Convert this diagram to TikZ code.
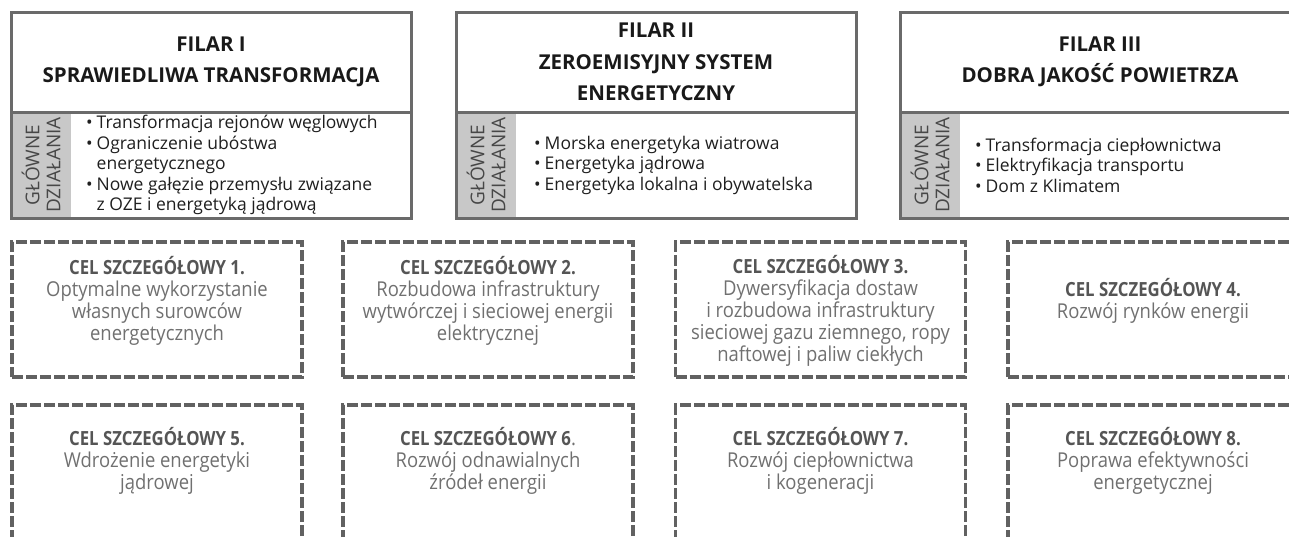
\documentclass[tikz,border=0pt]{standalone}
\usepackage{fontspec}
\setmainfont{Open Sans}
\newfontfamily\condfont[FakeStretch=0.86]{Open Sans}
\newfontfamily\goalfont[FakeStretch=0.9]{Open Sans}
\usepackage{xcolor}
\usepackage{tikz}
\usetikzlibrary{positioning}

\definecolor{framegray}{HTML}{6A6A6A}
\definecolor{dashgray}{HTML}{616161}
\definecolor{stripgray}{HTML}{C8C8C8}
\definecolor{goaltitle}{HTML}{555555}
\definecolor{goalbody}{HTML}{707070}

\newcommand{\bul}{\makebox[10.5pt][l]{\textbullet}}
\newcommand{\ind}{\hspace*{10.5pt}}
\newcommand{\goalhead}[1]{{\condfont\bfseries\color{goaltitle}\fontsize{19.5}{22}\selectfont #1}}

\begin{document}
\begin{tikzpicture}[x=1pt, y=-1pt,
    head/.style={draw=framegray, line width=3pt, outer sep=0pt, minimum width=400pt,
                 minimum height=100pt, align=center, text=black!90,
                 font=\fontsize{20.5}{31.5}\selectfont\bfseries},
    body/.style={draw=framegray, line width=3pt, outer sep=0pt, minimum width=400pt,
                 minimum height=106pt},
    strip/.style={fill=stripgray, outer sep=0pt, inner sep=0pt, minimum width=60pt,
                  minimum height=106pt},
    striplabel/.style={rotate=90, align=center, text=black!72,
                       font=\fontsize{19}{21}\selectfont},
    actions/.style={align=left, inner sep=0pt, text=black!88,
                    font=\fontsize{17.5}{20.5}\selectfont},
    goalbox/.style={draw=dashgray, line width=3.5pt, dash pattern=on 11pt off 3pt,
                    minimum width=290pt, minimum height=135pt},
    goaltext/.style={align=center, text=goalbody,
                     font=\goalfont\fontsize{20.5}{22}\selectfont},
]
\path[use as bounding box, clip] (0,0) rectangle (1289,536);

% --- Pillar I ---
\node[head] (h1) at (211,62) {FILAR I\\SPRAWIEDLIWA TRANSFORMACJA};
\node[strip, anchor=north west] (s1) at (h1.south west) {};
\node[body, below=0pt of h1] (b1) {};
\node[striplabel] (l1) at (s1) {GŁÓWNE\\DZIAŁANIA};
\node[actions, anchor=west] (a1) at ([xshift=15pt]s1.east) {%
  \bul Transformacja rejonów węglowych\\
  \bul Ograniczenie ubóstwa\\
  \ind energetycznego\\
  \bul Nowe gałęzie przemysłu związane\\
  \ind z OZE i energetyką jądrową};

% --- Pillar II ---
\node[head] (h2) at (656,62) {FILAR II\\ZEROEMISYJNY SYSTEM\\ENERGETYCZNY};
\node[strip, anchor=north west] (s2) at (h2.south west) {};
\node[body, below=0pt of h2] (b2) {};
\node[striplabel] (l2) at (s2) {GŁÓWNE\\DZIAŁANIA};
\node[actions, anchor=west] (a2) at ([xshift=18pt]s2.east) {%
  \bul Morska energetyka wiatrowa\\
  \bul Energetyka jądrowa\\
  \bul Energetyka lokalna i obywatelska};

% --- Pillar III (runs past the right edge) ---
\node[head] (h3) at (1100,62) {FILAR III\\DOBRA JAKOŚĆ POWIETRZA};
\node[strip, anchor=north west] (s3) at (h3.south west) {};
\node[body, below=0pt of h3] (b3) {};
\node[striplabel] (l3) at (s3) {GŁÓWNE\\DZIAŁANIA};
\node[actions, anchor=west] (a3) at ([xshift=15pt]s3.east) {%
  \bul Transformacja ciepłownictwa\\
  \bul Elektryfikacja transportu\\
  \bul Dom z Klimatem};

% ===================== SPECIFIC GOALS =====================

% Row 1
\node[goalbox] (g1) at (157,309.5) {};
\node[goalbox] (g2) at (488,309.5) {};
\node[goalbox] (g3) at (820.5,309.5) {};
\node[goalbox] (g4) at (1153,309.5) {};

\node[goaltext] (t1) at (157,301) {\goalhead{CEL SZCZEGÓŁOWY 1.}\\
  Optymalne wykorzystanie\\własnych surowców\\energetycznych};
\node[goaltext] (t2) at (488,301) {\goalhead{CEL SZCZEGÓŁOWY 2.}\\
  Rozbudowa infrastruktury\\wytwórczej i sieciowej energii\\elektrycznej};
\node[goaltext] (t3) at (820.5,311) {\goalhead{CEL SZCZEGÓŁOWY 3.}\\
  Dywersyfikacja dostaw\\i rozbudowa infrastruktury\\sieciowej gazu ziemnego, ropy\\naftowej i paliw ciekłych};
\node[goaltext] (t4) at (1153,301) {\goalhead{CEL SZCZEGÓŁOWY 4.}\\
  Rozwój rynków energii};

% Row 2 (cut off at the bottom)
\node[goalbox] (g5) at (157,472.5) {};
\node[goalbox] (g6) at (488,472.5) {};
\node[goalbox] (g7) at (820.5,472.5) {};
\node[goalbox] (g8) at (1153,472.5) {};

\node[goaltext] (t5) at (157,461) {\goalhead{CEL SZCZEGÓŁOWY 5.}\\
  Wdrożenie energetyki\\jądrowej};
\node[goaltext] (t6) at (488,461) {\goalhead{CEL SZCZEGÓŁOWY 6}.\\
  Rozwój odnawialnych\\źródeł energii};
\node[goaltext] (t7) at (820.5,461) {\goalhead{CEL SZCZEGÓŁOWY 7.}\\
  Rozwój ciepłownictwa\\i kogeneracji};
\node[goaltext] (t8) at (1153,461) {\goalhead{CEL SZCZEGÓŁOWY 8.}\\
  Poprawa efektywności\\energetycznej};

\end{tikzpicture}
\end{document}
